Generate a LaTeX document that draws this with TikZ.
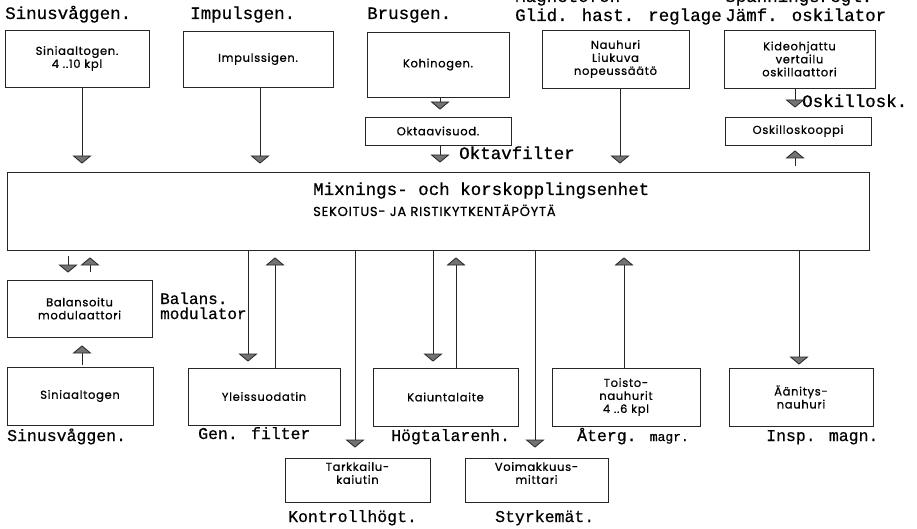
\documentclass[tikz,border=0pt]{standalone}
\usepackage{fontspec}
\newfontfamily\twfont{Liberation Mono}[FakeBold=0.6]
\newfontfamily\boxfont{Poppins}[FakeBold=0.8,LetterSpace=6]
\usetikzlibrary{arrows.meta}
\begin{document}
\begin{tikzpicture}[x=1pt,y=-1pt,
  box/.style={draw=black!85, line width=0.8pt, align=center, inner sep=0pt,
    font=\boxfont\fontsize{11.5}{13}\selectfont},
  lbl/.style={anchor=base west, inner sep=0pt, font=\twfont\fontsize{17.5}{18}\selectfont},
  blbl/.style={anchor=base west, inner sep=0pt, font=\twfont\fontsize{16.5}{18}\selectfont},
  arr/.style={draw=black!85, line width=0.7pt,
    -{Triangle[width=19pt,length=8pt,fill=black!55,line width=0.8pt]}},
]
\useasboundingbox (0,0) rectangle (917,529);
\fill[white] (0,0) rectangle (917,529);

% top boxes
\node[box, minimum width=144pt, minimum height=57pt] (sgT) at (77,58.5) {Siniaaltogen.\\4 ..10 kpl};
\node[box, minimum width=150pt, minimum height=56pt] (imp) at (258,59) {Impulssigen.};
\node[box, minimum width=142pt, minimum height=65pt] (kohi) at (438,64.5) {Kohinogen.};
\node[box, minimum width=146pt, minimum height=28pt] (okt) at (438,131) {Oktaavisuod.};
\node[box, minimum width=147pt, minimum height=58pt] (nau) at (615.5,59) {Nauhuri\\Liukuva\\nopeussäätö};
\node[box, minimum width=151pt, minimum height=58pt] (kid) at (799.5,59) {Kideohjattu\\vertailu\\oskillaattori};
\node[box, minimum width=146pt, minimum height=28pt] (osk) at (798,131) {Oskilloskooppi};

% mixer
\node[draw=black!85, line width=0.8pt, minimum width=862pt, minimum height=78pt, inner sep=0pt] (mix) at (438,211) {};
\node[lbl] (mixA) at (313,195) {Mixnings- och korskopplingsenhet};
\node[anchor=base west, inner sep=0pt, font=\boxfont\fontsize{13}{14}\selectfont] (mixB) at (313,216) {SEKOITUS- JA RISTIKYTKENTÄPÖYTÄ};

% bottom boxes
\node[box, minimum width=145pt, minimum height=57pt] (bal) at (79.5,308.5) {Balansoitu\\modulaattori};
\node[box, minimum width=146pt, minimum height=58pt] (sgB) at (80,396) {Siniaaltogen};
\node[box, minimum width=152pt, minimum height=57pt] (yle) at (264,396.5) {Yleissuodatin};
\node[box, minimum width=145pt, minimum height=58pt] (kai) at (445.5,397) {Kaiuntalaite};
\node[box, minimum width=148pt, minimum height=58pt] (toi) at (626,397) {Toisto-\\nauhurit\\4 ..6 kpl};
\node[box, minimum width=144pt, minimum height=58pt] (aan) at (801,397) {Äänitys-\\nauhuri};
\node[box, minimum width=145pt, minimum height=44pt, text depth=14pt] (tar) at (357.5,480) {Tarkkailu-\\kaiutin};
\node[box, minimum width=143pt, minimum height=44pt, text depth=14pt] (voi) at (536.5,480) {Voimakkuus-\\mittari};

% labels
\node[lbl] (l1) at (5,19) {Sinusvåggen.};
\node[lbl] (l2) at (190,19) {Impulsgen.};
\node[lbl] (l3) at (367,19) {Brusgen.};
\node[lbl] (l4a) at (515,2) {Magnetofon};
\node[lbl] (l4) at (515,21) {Glid. hast. reglage};
\node[lbl] (l5a) at (725,2) {Spänningsregl.};
\node[lbl] (l5) at (725,21) {Jämf. oskilator};
\node[lbl] (l6) at (802,107) {Oskillosk.};
\node[lbl] (l7) at (459,159) {Oktavfilter};
\node[lbl, font=\twfont\fontsize{16}{18}\selectfont] (l8) at (160,304) {Balans.};
\node[lbl, font=\twfont\fontsize{16}{18}\selectfont] (l9) at (160,319) {modulator};
\node[blbl] (b1) at (7,441) {Sinusvåggen.};
\node[blbl] (b2) at (198,439) {Gen. filter};
\node[blbl] (b3) at (391,441) {Högtalarenh.};
\node[blbl] (b4) at (577,441) {Återg. {\fontsize{13}{14}\selectfont magr.}};
\node[blbl] (b5) at (766,441) {Insp. magn.};
\node[blbl] (b6) at (288,522) {Kontrollhögt.};
\node[blbl] (b7) at (495,522) {Styrkemät.};

% connectors top
\draw[arr, shorten >=8pt] (82,0 |- sgT.south) -- (82,0 |- mix.north);
\draw[arr, shorten >=8pt] (260,0 |- imp.south) -- (260,0 |- mix.north);
\draw[arr, shorten >=7pt] (440,0 |- kohi.south) -- (440,0 |- okt.north);
\draw[arr, shorten >=9pt] (440,0 |- okt.south) -- (440,0 |- mix.north);
\draw[arr, shorten >=8pt] (620,0 |- nau.south) -- (620,0 |- mix.north);
\draw[arr, shorten >=9pt] (795,0 |- kid.south) -- (795,0 |- osk.north);
\draw[arr, shorten >=5pt, shorten <=6pt] (795,0 |- mix.north) -- (795,0 |- osk.south);

% connectors bottom
\draw[arr, shorten >=7pt, shorten <=6pt] (68,0 |- mix.south) -- (68,0 |- bal.north);
\draw[arr, shorten >=7pt, shorten <=8pt] (90,0 |- bal.north) -- (90,0 |- mix.south);
\draw[arr, shorten >=8pt, shorten <=2pt] (82,0 |- sgB.north) -- (82,0 |- bal.south);
\draw[arr, shorten >=6pt] (248,0 |- mix.south) -- (248,0 |- yle.north);
\draw[arr, shorten >=7pt] (275,0 |- yle.north) -- (275,0 |- mix.south);
\draw[arr, shorten >=10pt] (355,0 |- mix.south) -- (355,0 |- tar.north);
\draw[arr, shorten >=6pt] (433,0 |- mix.south) -- (433,0 |- kai.north);
\draw[arr, shorten >=7pt] (456,0 |- kai.north) -- (456,0 |- mix.south);
\draw[arr, shorten >=10pt] (535,0 |- mix.south) -- (535,0 |- voi.north);
\draw[arr, shorten >=7pt] (624,0 |- toi.north) -- (624,0 |- mix.south);
\draw[arr, shorten >=3pt] (799,0 |- mix.south) -- (799,0 |- aan.north);
\end{tikzpicture}
\end{document}
